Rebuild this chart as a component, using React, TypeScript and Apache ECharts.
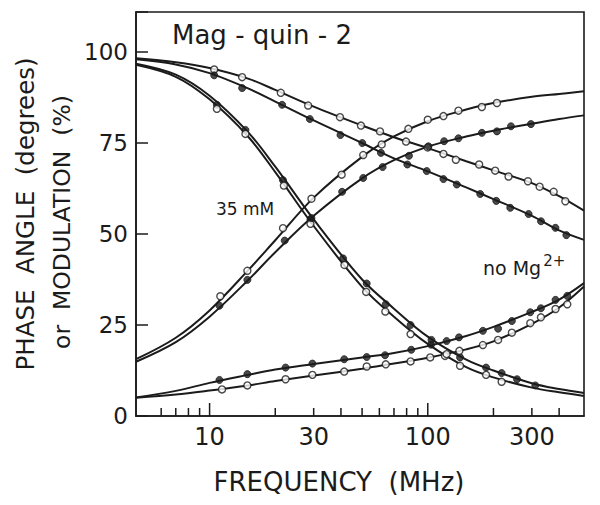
import React, { useEffect, useRef } from "react";
import * as echarts from "echarts";

const FONT = "'DejaVu Sans', 'Liberation Sans', sans-serif";
const INK = "#1b1b1b";

// x axis (MHz, log scale)
const xMin = 4.6;
const xMax = 520;
const xMajorTicks = [10, 100];
const xMinorTicks = [6, 7, 8, 9, 20, 30, 40, 50, 60, 70, 80, 90, 200, 300, 400];
const xTickLabels = [10, 30, 100, 300];

// fitted curves, read at these frequencies
const lineFreqs = [4.6, 7, 10, 15, 20, 30, 50, 70, 100, 150, 200, 300, 400, 520];
const modNoMgOpenLine = [98.3, 97.2, 95.6, 92.7, 89.6, 85.0, 79.8, 76.6, 73.6, 70.0, 67.5, 64.0, 60.4, 56.4];
const modNoMgFilledLine = [98.0, 96.6, 94.2, 90.0, 86.4, 81.2, 75.0, 70.8, 67.2, 62.8, 59.6, 55.0, 51.0, 48.4];
const mod35FilledLine = [96.8, 93.8, 88.0, 78.0, 68.5, 54.0, 37.5, 29.5, 21.8, 15.5, 12.5, 9.0, 7.4, 6.3];
const mod35OpenLine = [96.5, 93.2, 87.0, 76.8, 67.0, 52.2, 35.5, 27.3, 19.8, 13.4, 10.6, 7.8, 6.5, 5.5];
const phase35OpenLine = [15.6, 21.5, 29.0, 40.0, 48.3, 60.0, 71.2, 76.8, 81.0, 84.2, 86.0, 87.7, 88.5, 89.2];
const phase35FilledLine = [14.9, 20.3, 27.3, 37.3, 45.0, 55.0, 65.3, 70.3, 74.0, 76.8, 78.4, 80.3, 81.6, 82.6];
const phaseNoMgFilledLine = [5.1, 6.9, 9.1, 11.3, 12.8, 14.3, 16.1, 17.3, 19.2, 22.0, 24.5, 28.6, 32.0, 36.5];
const phaseNoMgOpenLine = [5.0, 5.9, 7.0, 8.4, 9.6, 11.1, 13.0, 14.4, 16.0, 18.3, 20.5, 25.3, 29.8, 35.6];

// measured points [MHz, value]
const modNoMgOpenPts = [[10.5, 95.2], [14.1, 93.1], [21.2, 88.8], [28.3, 85.3], [39.6, 82.1], [49.4, 79.8], [60.4, 78.2], [79.5, 75.4], [100, 73.8], [118, 72.0], [134.5, 70.4], [172, 69.1], [203.7, 67.4], [234.5, 65.8], [287.7, 64.5], [325.6, 63.0], [377.6, 61.6], [427, 59.0]];
const modNoMgFilledPts = [[10.5, 93.6], [14.1, 90.1], [21.5, 85.5], [28.8, 81.6], [39.8, 77.2], [50.1, 75.0], [61, 72.3], [80.6, 69.1], [98.9, 67.3], [118, 65.1], [135.9, 63.6], [173.9, 61.0], [206, 59.1], [238.8, 57.2], [289.8, 55.5], [330.4, 53.5], [384.6, 51.7], [431.7, 49.7]];
const mod35FilledPts = [[10.8, 85.5], [14.6, 78.6], [21.7, 64.8], [29, 54.0], [40.9, 43.3], [52.5, 36.4], [64.2, 30.7], [83.4, 25.0], [104, 20.9], [140.6, 16.1], [185, 13.3], [218, 11.8], [256.6, 10.1], [311, 8.4]];
const mod35OpenPts = [[10.8, 84.4], [14.6, 77.5], [21.9, 63.3], [29, 52.8], [41.5, 41.5], [52.2, 34.1], [63.9, 28.7], [83.4, 22.5], [120, 16.5], [140.6, 13.8], [185, 11.3], [218, 9.4]];
const phase35OpenPts = [[11.2, 32.9], [14.9, 39.9], [21.7, 51.6], [29.3, 59.7], [40.3, 66.3], [50.6, 71.7], [61.5, 74.6], [81.5, 78.9], [100, 81.4], [118, 82.4], [138.2, 83.9], [177, 84.9], [207.5, 86.0]];
const phase35FilledPts = [[11.1, 30.3], [14.9, 37.4], [22.1, 48.2], [29.3, 54.4], [40.5, 61.6], [50.6, 65.4], [62.1, 68.4], [82, 71.5], [100.7, 74.1], [118.8, 75.5], [138.2, 76.3], [177, 77.8], [207.5, 78.2], [240.6, 79.6], [297, 80.2]];
const phaseNoMgFilledPts = [[11.1, 9.9], [14.9, 11.5], [22.3, 13.3], [29.6, 14.4], [41.4, 15.6], [52.5, 16.2], [63.7, 16.7], [84, 18.2], [103.5, 19.6], [122, 20.6], [139, 21.6], [178.9, 23.4], [210, 24.0], [242.9, 26.1], [295, 28.5], [330, 29.6], [385, 31.9], [436, 33.0]];
const phaseNoMgOpenPts = [[11.4, 7.3], [14.9, 8.4], [22.3, 10.1], [29.6, 11.3], [41.4, 12.2], [52.5, 13.6], [64.2, 14.2], [83.4, 15.0], [102.6, 16.1], [122, 17.0], [139.6, 17.9], [178.9, 19.5], [210, 20.9], [242.9, 22.9], [295, 25.5], [330, 27.1], [385, 29.4], [436, 30.7]];

const yMin = 0;
const yMax = 111;
const yInterval = 25;

function lineSeries(name: string, vals: number[]) {
  return {
    name,
    type: "line",
    data: lineFreqs.map((f, i) => [f, vals[i]]),
    smooth: 0.35,
    showSymbol: false,
    symbol: "none",
    lineStyle: { color: INK, width: 2 },
    z: 2,
    silent: true,
  };
}

function pointSeries(name: string, pts: number[][], filled: boolean) {
  return {
    name,
    type: "scatter",
    data: pts,
    symbol: "circle",
    symbolSize: 7,
    itemStyle: filled
      ? { color: INK, borderColor: INK, borderWidth: 1 }
      : { color: "#ffffff", borderColor: INK, borderWidth: 1.4 },
    z: 4,
    silent: true,
  };
}

function tickSeries(name: string, ticks: number[], len: number) {
  return {
    name,
    type: "custom",
    coordinateSystem: "cartesian2d",
    clip: false,
    silent: true,
    z: 5,
    data: ticks.map((t) => [t, 0]),
    renderItem: (_p: any, api: any) => {
      const pt = api.coord([api.value(0), api.value(1)]);
      return {
        type: "line",
        shape: { x1: pt[0], y1: pt[1], x2: pt[0], y2: pt[1] - len },
        style: { stroke: INK, lineWidth: 1.5 },
      };
    },
  };
}

function tickLabelSeries() {
  return {
    name: "xlabels",
    type: "custom",
    coordinateSystem: "cartesian2d",
    clip: false,
    silent: true,
    z: 5,
    data: xTickLabels.map((t) => [t, 0]),
    renderItem: (_p: any, api: any) => {
      const pt = api.coord([api.value(0), api.value(1)]);
      return {
        type: "text",
        x: pt[0],
        y: pt[1] + 21,
        style: {
          text: String(api.value(0)),
          fontSize: 24,
          fontFamily: FONT,
          fill: INK,
          align: "center",
          verticalAlign: "middle",
        },
      };
    },
  };
}

export default function App() {
  const ref = useRef<HTMLDivElement>(null);
  useEffect(() => {
    if (!ref.current) return;
    const chart = echarts.init(ref.current, undefined, { renderer: "svg" });
    chart.setOption({
      animation: false,
      backgroundColor: "#ffffff",
      grid: {
        left: 136,
        right: 16,
        top: 12,
        bottom: 89,
        show: true,
        borderColor: INK,
        borderWidth: 1.6,
        backgroundColor: "transparent",
        containLabel: false,
        outerBoundsMode: "none",
      },
      xAxis: {
        type: "log",
        logBase: 10,
        min: xMin,
        max: xMax,
        axisLine: { show: true, lineStyle: { color: INK, width: 1.6 } },
        axisTick: { show: false },
        axisLabel: { show: false },
        splitLine: { show: false },
        minorTick: { show: false },
      },
      yAxis: {
        type: "value",
        min: yMin,
        max: yMax,
        interval: yInterval,
        axisLine: { show: true, lineStyle: { color: INK, width: 1.6 } },
        axisTick: { show: true, inside: true, length: 12, lineStyle: { color: INK, width: 1.5 } },
        axisLabel: {
          margin: 8,
          fontSize: 23,
          fontFamily: FONT,
          color: INK,
          formatter: (v: number) => (v % 25 === 0 ? String(v) : ""),
        },
        splitLine: { show: false },
      },
      graphic: [
        {
          type: "text",
          left: 172,
          top: 22,
          style: { text: "Mag - quin - 2", fontSize: 26, fontFamily: FONT, fill: INK },
        },
        {
          type: "text",
          x: 245,
          y: 209,
          style: { text: "35 mM", fontSize: 17, fontFamily: FONT, fill: INK, align: "center", verticalAlign: "middle" },
        },
        {
          type: "text",
          x: 483,
          y: 268,
          style: {
            text: "no Mg{sup|2+}",
            fontSize: 19,
            fontFamily: FONT,
            fill: INK,
            align: "left",
            verticalAlign: "middle",
            rich: {
              sup: { fontSize: 15, fontFamily: FONT, fill: INK, verticalAlign: "bottom", lineHeight: 30, padding: [0, 0, 15, 2] },
            },
          },
        },
        {
          type: "text",
          x: 339,
          y: 482,
          style: { text: "FREQUENCY  (MHz)", fontSize: 26, fontFamily: FONT, fill: INK, align: "center", verticalAlign: "middle" },
        },
        {
          type: "text",
          x: 25,
          y: 214,
          rotation: Math.PI / 2,
          style: { text: "PHASE  ANGLE  (degrees)", fontSize: 24.5, fontFamily: FONT, fill: INK, align: "center", verticalAlign: "middle" },
        },
        {
          type: "text",
          x: 62,
          y: 222,
          rotation: Math.PI / 2,
          style: { text: "or  MODULATION  (%)", fontSize: 23.5, fontFamily: FONT, fill: INK, align: "center", verticalAlign: "middle" },
        },
      ],
      series: [
        lineSeries("mod no Mg open", modNoMgOpenLine),
        lineSeries("mod no Mg filled", modNoMgFilledLine),
        lineSeries("mod 35 mM filled", mod35FilledLine),
        lineSeries("mod 35 mM open", mod35OpenLine),
        lineSeries("phase 35 mM open", phase35OpenLine),
        lineSeries("phase 35 mM filled", phase35FilledLine),
        lineSeries("phase no Mg filled", phaseNoMgFilledLine),
        lineSeries("phase no Mg open", phaseNoMgOpenLine),
        pointSeries("mod no Mg open pts", modNoMgOpenPts, false),
        pointSeries("mod no Mg filled pts", modNoMgFilledPts, true),
        pointSeries("mod 35 mM filled pts", mod35FilledPts, true),
        pointSeries("mod 35 mM open pts", mod35OpenPts, false),
        pointSeries("phase 35 mM open pts", phase35OpenPts, false),
        pointSeries("phase 35 mM filled pts", phase35FilledPts, true),
        pointSeries("phase no Mg filled pts", phaseNoMgFilledPts, true),
        pointSeries("phase no Mg open pts", phaseNoMgOpenPts, false),
        tickSeries("x major ticks", xMajorTicks, 13),
        tickSeries("x minor ticks", xMinorTicks, 8),
        tickLabelSeries(),
      ],
    });
    return () => chart.dispose();
  }, []);
  return <div ref={ref} style={{ width: 600, height: 505, position: "absolute", left: 0, top: 0 }} />;
}
